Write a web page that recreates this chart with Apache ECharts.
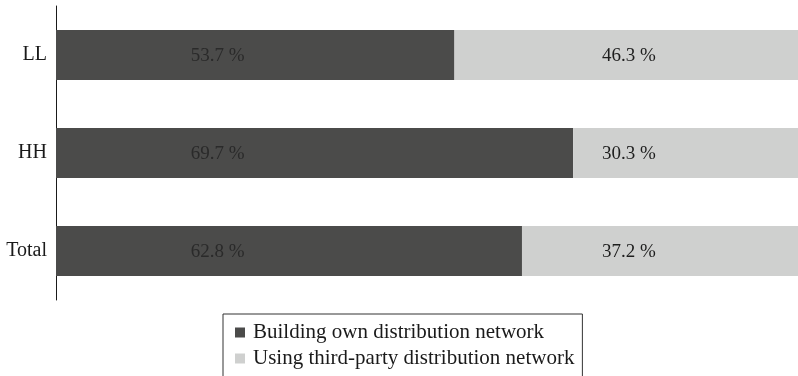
<!DOCTYPE html>
<html>
<head>
<meta charset="utf-8">
<script src="https://cdn.jsdelivr.net/npm/echarts@6/dist/echarts.min.js"></script>
<style>
  html, body { margin: 0; padding: 0; background: #fff; }
  #chart { width: 798px; height: 376px; }
</style>
</head>
<body>
<div id="chart"></div>
<script>
// Share of firms by distribution strategy, per group
const categories = ['LL', 'HH', 'Total'];
const ownNetwork = [53.7, 69.7, 62.8];
const thirdParty = [46.3, 30.3, 37.2];
const seriesNames = ['Building own distribution network', 'Using third-party distribution network'];

// Labels sit in fixed columns along the value axis (in percent of the axis)
const labelColumns = [21.8, 77.2];

const FONT = '"Liberation Serif", "DejaVu Serif", serif';
const GRID = { left: 56, right: -2, top: 6, bottom: 76 };

const chart = echarts.init(document.getElementById('chart'));

function columnLayout(col) {
  return function (params) {
    const px = chart.convertToPixel({ xAxisIndex: 0 }, labelColumns[col]);
    return {
      x: px,
      y: params.rect.y + params.rect.height / 2 + 1,
      align: 'center',
      verticalAlign: 'middle'
    };
  };
}

chart.setOption({
  animation: false,
  grid: GRID,
  xAxis: {
    type: 'value',
    min: 0,
    max: 100,
    show: false
  },
  yAxis: {
    type: 'category',
    data: categories,
    inverse: true,
    axisLine: { show: true, lineStyle: { color: '#1a1a1a', width: 1 } },
    axisTick: { show: false },
    axisLabel: { color: '#1a1a1a', fontFamily: FONT, fontSize: 20, margin: 9 },
    splitLine: { show: false }
  },
  legend: {
    orient: 'vertical',
    left: 223,
    top: 314,
    height: 120,
    padding: [8, 8, 14, 12],
    itemGap: 5,
    itemWidth: 10,
    itemHeight: 10,
    icon: 'rect',
    borderColor: '#333',
    borderWidth: 1,
    textStyle: { fontFamily: FONT, fontSize: 21, color: '#1a1a1a', padding: [0, 0, 0, 3] },
    data: seriesNames
  },
  series: [
    {
      name: seriesNames[0],
      type: 'bar',
      stack: 'share',
      barWidth: 50,
      data: ownNetwork,
      itemStyle: { color: '#4b4b4a' },
      label: {
        show: true,
        position: 'inside',
        color: '#2a2a2a',
        fontFamily: FONT,
        fontSize: 19,
        formatter: p => p.value.toFixed(1) + ' %'
      },
      labelLayout: columnLayout(0)
    },
    {
      name: seriesNames[1],
      type: 'bar',
      stack: 'share',
      barWidth: 50,
      data: thirdParty,
      itemStyle: { color: '#cfd0cf' },
      label: {
        show: true,
        position: 'inside',
        color: '#1e1e1e',
        fontFamily: FONT,
        fontSize: 19,
        formatter: p => p.value.toFixed(1) + ' %'
      },
      labelLayout: columnLayout(1)
    }
  ]
});
</script>
</body>
</html>
